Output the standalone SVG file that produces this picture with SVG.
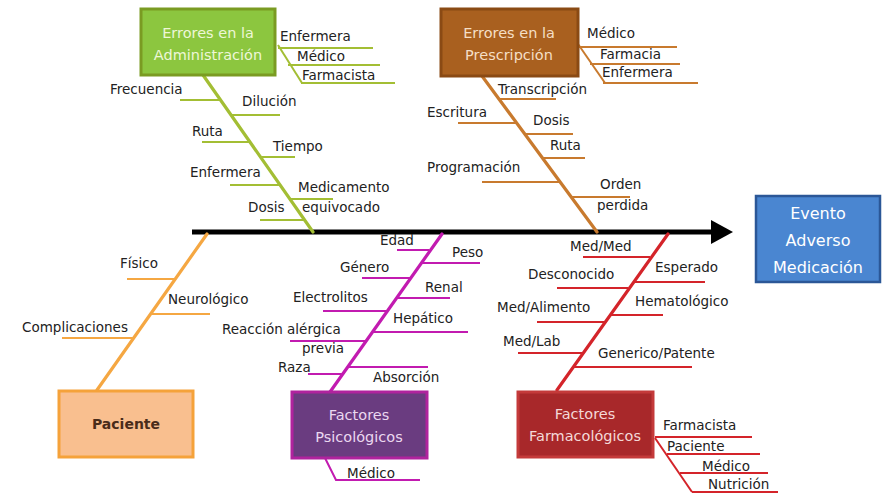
<svg xmlns="http://www.w3.org/2000/svg" width="892" height="496" viewBox="0 0 892 496">
<defs>
<style>
text{font-family:"DejaVu Sans","Liberation Sans",sans-serif;font-size:13.5px;fill:#222}
.box text{font-size:14.5px;text-anchor:middle}
.b{fill:none;stroke-width:2}
.s{fill:none;stroke-width:3.2;stroke-linecap:round}
.g{stroke:#A3BE34}.br{stroke:#C87A2E}.o{stroke:#F5A742}.p{stroke:#C21BB0}.r{stroke:#D4242A}
</style>
<marker id="ah" markerWidth="6" markerHeight="6" refX="1" refY="3" orient="auto" markerUnits="strokeWidth"><path d="M0,0.6 L4.4,3 L0,5.4 Z" fill="#000"/></marker>
</defs>
<rect width="892" height="496" fill="#fff"/>
<g id="connectors">
<line x1="192" y1="232" x2="716" y2="232" stroke="#000" stroke-width="5" marker-end="url(#ah)"/>
<!-- green -->
<line class="s g" x1="203" y1="75" x2="313" y2="232"/>
<path class="b g" d="M278,45 L302,83"/>
<line class="b g" x1="278" y1="48" x2="373" y2="48"/>
<line class="b g" x1="288" y1="65" x2="380" y2="65"/>
<line class="b g" x1="301" y1="83" x2="395" y2="83"/>
<line class="b g" x1="180" y1="100" x2="221" y2="100"/>
<line class="b g" x1="231" y1="115" x2="280" y2="115"/>
<line class="b g" x1="202" y1="142" x2="250" y2="142"/>
<line class="b g" x1="260" y1="157" x2="295" y2="157"/>
<line class="b g" x1="230" y1="185" x2="280" y2="185"/>
<line class="b g" x1="290" y1="199" x2="333" y2="199"/>
<line class="b g" x1="260" y1="220" x2="305" y2="220"/>
<!-- brown -->
<line class="s br" x1="482" y1="76" x2="597" y2="232"/>
<path class="b br" d="M578,44 L605,83"/>
<line class="b br" x1="578" y1="47" x2="677" y2="47"/>
<line class="b br" x1="590" y1="64" x2="680" y2="64"/>
<line class="b br" x1="603" y1="83" x2="698" y2="83"/>
<line class="b br" x1="499" y1="99" x2="556" y2="99"/>
<line class="b br" x1="458" y1="123" x2="517" y2="123"/>
<line class="b br" x1="525" y1="134" x2="573" y2="134"/>
<line class="b br" x1="543" y1="158" x2="585" y2="158"/>
<line class="b br" x1="482" y1="182" x2="560" y2="182"/>
<line class="b br" x1="571" y1="197" x2="630" y2="197"/>
<!-- orange -->
<line class="s o" x1="207" y1="234" x2="97" y2="390"/>
<line class="b o" x1="127" y1="279" x2="175" y2="279"/>
<line class="b o" x1="150" y1="314" x2="210" y2="314"/>
<line class="b o" x1="62" y1="338" x2="134" y2="338"/>
<!-- purple -->
<line class="s p" x1="442" y1="234" x2="330" y2="392"/>
<path class="b p" d="M325,458 L336,480 L420,480"/>
<line class="b p" x1="397" y1="250" x2="429" y2="250"/>
<line class="b p" x1="420" y1="263" x2="480" y2="263"/>
<line class="b p" x1="362" y1="278" x2="410" y2="278"/>
<line class="b p" x1="396" y1="298" x2="450" y2="298"/>
<line class="b p" x1="323" y1="311" x2="387" y2="311"/>
<line class="b p" x1="372" y1="332" x2="468" y2="332"/>
<line class="b p" x1="290" y1="341" x2="366" y2="341"/>
<line class="b p" x1="308" y1="374" x2="343" y2="374"/>
<line class="b p" x1="347" y1="367" x2="428" y2="367"/>
<!-- red -->
<line class="s r" x1="668" y1="234" x2="557" y2="390"/>
<path class="b r" d="M655,438 L692,492"/>
<line class="b r" x1="655" y1="437" x2="752" y2="437"/>
<line class="b r" x1="667" y1="454" x2="760" y2="454"/>
<line class="b r" x1="680" y1="473" x2="768" y2="473"/>
<line class="b r" x1="692" y1="492" x2="778" y2="492"/>
<line class="b r" x1="583" y1="257" x2="650" y2="257"/>
<line class="b r" x1="633" y1="282" x2="705" y2="282"/>
<line class="b r" x1="557" y1="288" x2="628" y2="288"/>
<line class="b r" x1="610" y1="315" x2="663" y2="315"/>
<line class="b r" x1="537" y1="322" x2="605" y2="322"/>
<line class="b r" x1="518" y1="353" x2="583" y2="353"/>
<line class="b r" x1="573" y1="367" x2="692" y2="367"/>
</g>
<g id="node-administracion" class="box">
<rect x="141" y="9" width="134" height="66" fill="#8CC63F" stroke="#7A9B22" stroke-width="3"/>
<text x="208" y="38" style="fill:#EEF7D8">Errores en la</text>
<text x="208" y="60" style="fill:#EEF7D8">Administración</text>
</g>
<g id="node-prescripcion" class="box">
<rect x="441" y="9" width="137" height="67" fill="#A9601F" stroke="#8A4A14" stroke-width="3"/>
<text x="509" y="38" style="fill:#F5DFC6">Errores en la</text>
<text x="509" y="60" style="fill:#F5DFC6">Prescripción</text>
</g>
<g id="node-paciente" class="box">
<rect x="59" y="391" width="134" height="66" fill="#F9BF8F" stroke="#F5A23A" stroke-width="3"/>
<text x="126" y="429" style="fill:#4A2C1A;font-size:14px;font-weight:bold">Paciente</text>
</g>
<g id="node-psicologicos" class="box">
<rect x="292" y="392" width="135" height="66" fill="#6A3C80" stroke="#B0239E" stroke-width="3"/>
<text x="359" y="420" style="fill:#EAD8F0">Factores</text>
<text x="359" y="442" style="fill:#EAD8F0">Psicológicos</text>
</g>
<g id="node-farmacologicos" class="box">
<rect x="518" y="392" width="135" height="65" fill="#A8282A" stroke="#C43A3A" stroke-width="3"/>
<text x="585" y="419" style="fill:#F4D8D8">Factores</text>
<text x="585" y="441" style="fill:#F4D8D8">Farmacológicos</text>
</g>
<g id="node-evento" class="box">
<rect x="756" y="196" width="124" height="86" fill="#4A86D1" stroke="#2B5797" stroke-width="2.5"/>
<text x="818" y="219" style="fill:#fff;font-size:16px">Evento</text>
<text x="818" y="246" style="fill:#fff;font-size:16px">Adverso</text>
<text x="818" y="273" style="fill:#fff;font-size:16px">Medicación</text>
</g>
<g id="labels-administracion">
<text x="280" y="41">Enfermera</text>
<text x="297" y="61">Médico</text>
<text x="302" y="80">Farmacista</text>
<text x="110" y="94">Frecuencia</text>
<text x="242" y="106">Dilución</text>
<text x="192" y="136">Ruta</text>
<text x="273" y="151">Tiempo</text>
<text x="190" y="177">Enfermera</text>
<text x="298" y="192">Medicamento</text>
<text x="302" y="212">equivocado</text>
<text x="248" y="212">Dosis</text>
</g>
<g id="labels-prescripcion">
<text x="587" y="38">Médico</text>
<text x="600" y="59">Farmacia</text>
<text x="602" y="77">Enfermera</text>
<text x="498" y="94">Transcripción</text>
<text x="427" y="117">Escritura</text>
<text x="533" y="125">Dosis</text>
<text x="550" y="150">Ruta</text>
<text x="427" y="172">Programación</text>
<text x="600" y="189">Orden</text>
<text x="597" y="210">perdida</text>
</g>
<g id="labels-paciente">
<text x="120" y="268">Físico</text>
<text x="168" y="304">Neurológico</text>
<text x="22" y="332">Complicaciones</text>
</g>
<g id="labels-psicologicos">
<text x="380" y="245">Edad</text>
<text x="452" y="257">Peso</text>
<text x="340" y="272">Género</text>
<text x="425" y="292">Renal</text>
<text x="293" y="302">Electrolitos</text>
<text x="393" y="323">Hepático</text>
<text x="222" y="334">Reacción alérgica</text>
<text x="302" y="353">previa</text>
<text x="278" y="372">Raza</text>
<text x="373" y="382">Absorción</text>
<text x="347" y="478">Médico</text>
</g>
<g id="labels-farmacologicos">
<text x="570" y="251">Med/Med</text>
<text x="655" y="272">Esperado</text>
<text x="528" y="279">Desconocido</text>
<text x="635" y="306">Hematológico</text>
<text x="497" y="312">Med/Alimento</text>
<text x="503" y="346">Med/Lab</text>
<text x="598" y="358">Generico/Patente</text>
<text x="663" y="430">Farmacista</text>
<text x="667" y="451">Paciente</text>
<text x="702" y="471">Médico</text>
<text x="708" y="489">Nutrición</text>
</g>
</svg>
